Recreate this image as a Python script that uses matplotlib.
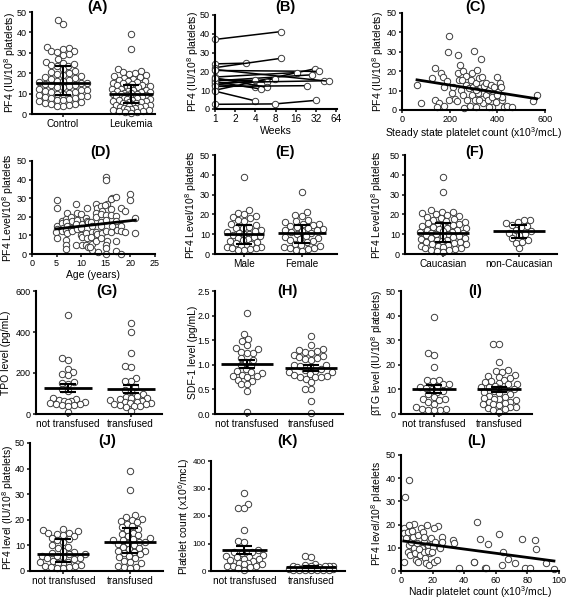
import numpy as np
import matplotlib
matplotlib.use('Agg')
import matplotlib.pyplot as plt

plt.rcParams['font.family'] = ['Liberation Sans', 'DejaVu Sans']
plt.rcParams['mathtext.default'] = 'regular'

# ---------------- data ----------------
a_control = [46, 44, 33, 32.5, 32, 31, 31, 30.5, 29.5, 29, 27, 25.5, 25, 24.5, 24, 23.5, 23.5, 22, 21,
             20.5, 20, 19.5, 19, 18.5, 18, 17.5, 17, 16.5, 16, 16, 15.5, 15, 15, 14.5, 14, 14, 13.5, 13,
             13, 12.5, 12, 12, 11.5, 11, 11, 10.5, 10, 10, 9.5, 9, 9, 8.5, 8, 8, 7.5, 7, 7, 6.5, 6, 5.5,
             5, 5, 4.5, 4, 4]
a_leukemia = [39, 32, 22, 21, 20.5, 20, 19.5, 19, 18.5, 18, 17.5, 17, 16.5, 16, 16, 15.5, 15, 15, 14.5,
              14, 14, 13.5, 13.5, 13, 13, 12.5, 12.5, 12, 12, 11.5, 11.5, 11, 11, 10.5, 10.5, 10, 10, 10,
              9.5, 9.5, 9, 9, 8.5, 8.5, 8, 8, 7.5, 7.5, 7, 7, 6.5, 6.5, 6, 6, 5.5, 5.5, 5, 5, 4.5, 4.5, 4,
              4, 3.5, 3.5, 3, 3, 2.5, 2.5, 2, 2, 1.5, 1.5, 1, 1, 0.5]

b_weeks = [[1, 9.8], [1, 2.9], [1, 9.8], [1, 31], [1, 35], [1, 16.5], [1, 28], [1, 7.8], [1, 5.9],
           [1, 3.9], [1, 41.7], [1, 51], [1, 3.9], [1, 4.9], [1, 6], [1, 23.4], [1, 3.9], [1, 7.8, 32]]
b_values = [[37, 41.2], [24, 24.4], [22, 27], [10, 21.4], [20.5, 20], [17, 19.4], [15, 18.2], [13, 16],
            [16, 14.3], [15.5, 15.2], [14, 15], [21, 14.7], [13, 11.7], [14.5, 10.6], [16.5, 11.5],
            [12, 12.4], [9.5, 4.4], [2.5, 2.7, 4.6]]

c_count = [63, 80, 124, 140, 138, 154, 147, 164, 174, 176, 176, 187, 191, 199, 197, 213, 222, 232, 236,
           236, 239, 242, 246, 256, 257, 260, 267, 267, 274, 281, 284, 288, 292, 295, 298, 302, 305, 309,
           312, 316, 319, 323, 327, 330, 334, 337, 340, 346, 351, 354, 360, 365, 372, 376, 379, 386, 393,
           400, 404, 410, 414, 419, 421, 426, 442, 463, 548, 565, 400, 250, 211, 365, 323, 309]
c_pf4 = [12.9, 3.8, 16.4, 21.9, 5.2, 3.4, 1.4, 19.3, 17.2, 11.7, 2.1, 15.2, 29.7, 37.9, 5.2, 11.7, 5.5,
         4.8, 28.4, 19.3, 15.5, 23.3, 10.3, 20.3, 7.8, 0.9, 17.6, 12.9, 5.2, 11.2, 2.1, 15.5, 7.8, 19.0,
         11.7, 30.2, 5.2, 13.8, 1.7, 20.7, 8.6, 16.4, 11.2, 26.2, 5.5, 17.2, 3.4, 12.4, 7.8, 14.1, 5.2,
         10.3, 12.9, 1.7, 6.9, 12.1, 4.3, 17.2, 9.5, 13.8, 11.7, 5.2, 6.9, 1.7, 2.1, 1.4, 4.8, 7.8, 7.8,
         15.5, 8.6, 1.7, 5.2, 10.3]
c_fit = (16.76, -0.0194)

d_age = [5, 5, 5, 5.1, 4.9, 5, 6.1, 6, 6.2, 6, 7.2, 7, 6.9, 7.2, 7, 7.1, 7, 7, 7, 8, 8.2, 8, 8.1,
         9, 9.2, 9.1, 9, 9.2, 9, 10, 10.1, 9.9, 10, 10.2, 10.1, 11.2, 11, 11.1, 11.3, 11, 11.2, 11, 11.3,
         12, 12.2, 12.1, 12, 12.2, 12.1, 11.8, 13, 13.2, 13, 13.1, 13, 13.2, 13.1, 13.4,
         14, 14.2, 14, 14.1, 14, 14.2, 14.1, 15, 15, 15.2, 14.8, 15, 15.1, 15, 15.2, 15, 15.1, 15,
         16.2, 16, 16.1, 16, 16.2, 16, 17, 17.1, 17, 17.2, 17, 17.1, 18, 18.1, 18, 18, 19, 19, 20, 20, 21, 21]
d_pf4 = [29, 24.5, 15, 13.5, 12, 8.5, 18, 16.5, 14, 12.5, 22, 19, 17, 15, 13, 11.5, 7.5, 5, 2.5,
         20, 17.5, 14, 12.5, 27, 22, 18.5, 16, 13.5, 5, 21.5, 16, 14, 10, 9, 5,
         25, 19.5, 18, 17, 11.5, 8.5, 5, 3.5, 17, 15, 12, 9, 5.5, 2, 4, 27, 25, 22, 20, 12, 10.5, 7, 1,
         26, 23, 21.5, 17, 15, 11.5, 8.5, 41.5, 40, 27, 26.5, 21, 18.5, 12.5, 7, 5, 3, 0,
         30, 29.5, 24, 21, 15, 12, 30.5, 20.5, 18, 13, 7, 1.5, 24.5, 15, 12.5, 0, 23, 12, 32, 29, 19.5, 11.5]
d_fit = (12.03, 0.294)

e_male = [39, 22, 20.5, 20, 19, 18.5, 18, 17, 16.5, 15, 14.5, 13.5, 13, 13, 12, 11.5, 11, 10.5, 10, 10,
          9.5, 9, 8.5, 8, 7.5, 7, 6.5, 6, 5.5, 5, 4.5, 4, 3.5, 3.5, 3, 3, 2.5, 2, 2]
e_female = [31.5, 21, 19.5, 19, 17, 16.5, 16, 15, 15, 14.5, 14, 13.5, 13, 12.5, 12, 12, 11.5, 11, 10.5,
            10, 9, 8.5, 8, 7.5, 7, 6.5, 6, 5, 4.5, 4, 3.5, 3, 3, 2.5, 2, 1.5]

f_cauc = [39, 31.5, 22, 21, 21, 20.5, 20, 19.5, 19, 18.5, 18, 17.5, 17, 16.5, 16, 15.5, 15, 15, 14.5, 14,
          14, 13.5, 13, 13, 12.5, 12, 12, 11.5, 11, 11, 10.5, 10.5, 10, 10, 9.5, 9, 9, 8.5, 8, 8, 7.5,
          7, 7, 6.5, 6, 6, 5.5, 5, 5, 4.5, 4, 4, 3.5, 3, 3, 2.5, 2, 2, 1.5, 1]
f_noncauc = [17, 17, 16, 15.5, 14.5, 14, 13.5, 12, 11.5, 10.5, 10, 9.5, 8, 7, 6, 5.5, 3]

g_not = [485, 275, 265, 220, 205, 195, 190, 155, 150, 145, 120, 110, 80, 75, 70, 65, 65, 60, 60, 55,
         50, 50, 45, 45, 40, 10]
g_trans = [445, 400, 300, 235, 230, 175, 160, 160, 130, 115, 110, 100, 90, 85, 80, 80, 75, 70, 65, 60,
           60, 55, 55, 50, 50, 45, 40, 40, 35, 15]

h_not = [2.05, 1.63, 1.53, 1.48, 1.4, 1.35, 1.32, 1.27, 1.25, 1.25, 1.13, 1.1, 1.05, 1.0, 0.98, 0.92,
         0.88, 0.85, 0.83, 0.8, 0.78, 0.77, 0.75, 0.7, 0.68, 0.6, 0.6, 0.46, 0.05]
h_trans = [1.58, 1.4, 1.33, 1.3, 1.28, 1.27, 1.25, 1.2, 1.17, 1.15, 1.13, 1.12, 1.1, 1.0, 1.0, 0.98,
           0.95, 0.92, 0.9, 0.88, 0.85, 0.85, 0.82, 0.8, 0.78, 0.76, 0.75, 0.75, 0.72, 0.65, 0.5, 0.5,
           0.26, 0.03]

i_not = [39.5, 25, 24, 19, 14, 14, 13.5, 12, 12, 11.5, 11, 10.5, 10, 9.5, 9, 8, 7, 6, 6, 5.5, 5, 4, 3,
         2, 2, 1.5, 1.5, 1.5]
i_trans = [28.5, 28.5, 21, 18, 17.5, 17, 16, 15.5, 15, 14.5, 14, 13.5, 13, 12.5, 12, 12, 11.5, 11, 11,
           10.5, 10, 10, 9.5, 9, 8.5, 8, 7.5, 7, 6.5, 6, 6, 5.5, 5, 5, 4.5, 4, 4, 3.5, 3, 3, 2.5, 2,
           1.5, 1]

j_not = [16.5, 16, 15.5, 15, 15, 14.5, 14, 13.5, 13, 12.5, 12, 11.5, 10, 9.5, 9, 8, 7.5, 7, 6.5, 6.5,
         6, 6, 5.5, 5, 5, 4.5, 4, 3.5, 3.5, 3, 3, 2.5, 2, 2, 1.5, 1.5, 1, 1]
j_trans = [39, 31.5, 22, 21, 20.5, 20, 19.5, 19, 18.5, 17.5, 17, 16.5, 16, 15, 14.5, 14, 13.5, 13, 12.5,
           12, 12, 11.5, 11.5, 11, 10.5, 10, 9.5, 9, 8.5, 8, 8, 7.5, 7, 6.5, 6, 5.5, 5, 4, 3.5, 3, 2,
           1.5, 1.5, 1]

k_not = [285, 245, 230, 228, 148, 110, 105, 75, 70, 70, 65, 60, 55, 50, 50, 45, 45, 40, 35, 30, 30, 25,
         25, 20, 20, 20, 15, 10, 5]
k_trans = [53, 50, 25, 22, 20, 20, 18, 18, 17, 15, 15, 12, 10, 10, 8, 8, 7, 6, 5, 5, 5, 4, 3, 2, 2]

l_nadir = [2.1, 2.7, 4.9, 2.1, 1.7, 4.2, 3.2, 5.3, 4.2, 5.9, 6.3, 7.4, 8, 8.5, 9.5, 8.9, 10.6, 10.1, 11,
           12.3, 12.7, 13.1, 13.7, 14.4, 14.8, 15.2, 15.9, 16.5, 17.3, 18, 18.6, 19, 20.1, 20.7, 21.6,
           22.8, 23.7, 24.7, 25.8, 26, 32.8, 33.8, 37, 45.9, 45.9, 48, 50.1, 52.9, 53.9, 55, 61.9, 64.5,
           63.8, 67.7, 71.9, 76.7, 78.6, 81.8, 84.6, 85.6, 92, 96.8, 5.3, 6.8, 11.6, 14.8, 16.9, 19.4, 21.1]
l_pf4 = [18.4, 32, 39.2, 4.0, 16.2, 17, 14.1, 11.2, 8.3, 6.9, 12.6, 14.8, 20.3, 9.8, 4.7, 7.6, 4.0, 11.9,
         15.5, 6.9, 18.4, 10.1, 16.8, 12.6, 8.3, 5.5, 3.3, 20, 11.2, 2.6, 7.6, 14.1, 10.5, 4.0, 12.6, 4.7,
         19.5, 9.8, 14.8, 12.6, 13.4, 11.9, 1.4, 3.7, 4.0, 21, 13.8, 1.4, 1.4, 11.5, 15.8, 8.0, 2.6, 5.2,
         3.3, 13.6, 1.4, 1.4, 13.4, 9.3, 3.4, 1.0, 19.9, 17.4, 9.3, 14.8, 8.6, 8.0, 18.4]
l_fit = (13.07, -0.0904)

pf4_iu = 'PF4 (IU/10$^8$ platelets)'
pf4_lvl = 'PF4 Level/10$^8$ platelets'

# ---------------- layout ----------------
W, H = 567, 599
fig = plt.figure(figsize=(W / 100, H / 100), dpi=100)
DOT = dict(marker='o', ls='none', ms=4.6, mfc='white', mec='#3c3c3c', mew=0.7, clip_on=False, zorder=2)
LAB = 7.5
TICK = 6.5
CAT = 7.2


def make_ax(x0, y0, x1, y1):
    ax = fig.add_axes([x0 / W, 1 - y1 / H, (x1 - x0) / W, (y1 - y0) / H])
    for s in ['top', 'right']:
        ax.spines[s].set_visible(False)
    for s in ['left', 'bottom']:
        ax.spines[s].set_linewidth(1.5)
    ax.tick_params(width=1.2, length=2.5, labelsize=TICK, pad=1.2, color='#222222')
    return ax


def ylab(ax, text, xr):
    # xr: right edge of the rotated label, figure pixels
    ax.set_ylabel(text, fontsize=LAB)
    pos = ax.get_position()
    ax.yaxis.set_label_coords((xr / W - pos.x0) / pos.width, 0.5)


def title(x, y, s):
    fig.text(x / W, 1 - y / H, s, ha='center', va='center', fontsize=10.5, fontweight='bold')


def offsets(vals, ax, ylim, xspan, maxw, d=6.0):
    # greedy beeswarm in pixel units, limited to +-maxw px
    pos = ax.get_position()
    hpx, wpx = pos.height * H, pos.width * W
    py = (np.asarray(vals, float) - ylim[0]) / (ylim[1] - ylim[0]) * hpx
    cand = np.arange(-maxw, maxw + 0.01, 0.5)
    cand = cand[np.argsort(np.abs(cand), kind='stable')]
    px_done, py_done = [], []
    off = np.zeros(len(py))
    for i in np.argsort(py):
        j = 0
        if px_done:
            dx = cand[:, None] - np.array(px_done)[None, :]
            dy = py[i] - np.array(py_done)
            dist = np.sqrt(dx ** 2 + dy[None, :] ** 2).min(axis=1)
            for thr in [d, 0.8 * d, 0.6 * d, 0.4 * d, 0.2 * d, 0]:
                ok = np.where(dist >= thr)[0]
                if len(ok):
                    j = ok[0]
                    break
        off[i] = cand[j]
        px_done.append(cand[j])
        py_done.append(py[i])
    return off * xspan / wpx


def dotplot(ax, groups, names, ylim, stat='median', hw=24, cap=8, xlim=(0.5, 2.5)):
    ax.set_xlim(xlim)
    ax.set_ylim(ylim)
    xspan = xlim[1] - xlim[0]
    upx = xspan / (ax.get_position().width * W)
    for i, vals in enumerate(groups):
        x0 = i + 1
        h = hw[i] if isinstance(hw, (list, tuple)) else hw
        ax.plot(x0 + offsets(vals, ax, ylim, xspan, h - 3), vals, **DOT)
        if stat == 'median':
            c = np.median(vals)
            lo, hi = np.percentile(vals, [25, 75])
        else:
            c = np.mean(vals)
            sem = np.std(vals, ddof=1) / np.sqrt(len(vals))
            lo, hi = c - sem, c + sem
        ax.hlines(c, x0 - h * upx, x0 + h * upx, color='k', lw=2, zorder=3)
        ax.vlines(x0, lo, hi, color='k', lw=1.5, zorder=3)
        ax.hlines([lo, hi], x0 - cap * upx, x0 + cap * upx, color='k', lw=1.5, zorder=3)
    ax.set_xticks([1, 2])
    ax.set_xticklabels(names, fontsize=CAT)


def scatter_fit(ax, x, y, fit, xlim, ylim):
    ax.set_xlim(xlim)
    ax.set_ylim(ylim)
    ax.plot(x, y, **DOT)
    xs = np.array([min(x), max(x)])
    ax.plot(xs, fit[0] + fit[1] * xs, color='k', lw=2, zorder=3)


# (A)
ax = make_ax(32, 12, 155, 114)
dotplot(ax, [a_control, a_leukemia], ['Control', 'Leukemia'], (0, 50), hw=[27, 22], xlim=(0.55, 2.35))
ax.set_yticks(range(0, 51, 10))
ylab(ax, pf4_iu, 18)
title(97, 7, '(A)')

# (B)
ax = make_ax(215, 15, 337, 109)
for wk, val in zip(b_weeks, b_values):
    ax.plot(wk, val, color='k', lw=1.1, **{k: v for k, v in DOT.items() if k != 'ls'})
ax.set_xscale('log', base=2)
ax.set_xlim(1, 66)
ax.set_ylim(0, 50)
ax.set_xticks([1, 2, 4, 8, 16, 32, 64])
ax.set_xticklabels(['1', '2', '4', '8', '16', '32', '64'], fontsize=CAT)
ax.minorticks_off()
ax.set_yticks(range(0, 51, 10))
ax.set_xlabel('Weeks', fontsize=LAB, labelpad=1)
ylab(ax, pf4_iu, 201)
title(285, 7, '(B)')

# (C)
ax = make_ax(402, 13, 545, 110)
scatter_fit(ax, c_count, c_pf4, c_fit, (0, 600), (0, 50))
ax.set_xticks([0, 200, 400, 600])
ax.set_yticks(range(0, 51, 10))
ax.set_xlabel('Steady state platelet count (x10$^3$/mcL)', fontsize=LAB, labelpad=1)
ylab(ax, pf4_iu, 386)
title(475, 7, '(C)')

# (D)
ax = make_ax(32, 161, 155, 254)
scatter_fit(ax, d_age, d_pf4, d_fit, (0, 25), (0, 50))
ax.set_xticks(range(0, 26, 5))
ax.set_yticks(range(0, 51, 10))
ax.set_xlabel('Age (years)', fontsize=LAB, labelpad=1)
ylab(ax, pf4_lvl, 16)
title(100, 152, '(D)')

# (E)
ax = make_ax(215, 155, 337, 254)
dotplot(ax, [e_male, e_female], ['Male', 'Female'], (0, 50), hw=[20, 24], xlim=(0.5, 2.6))
ax.set_yticks(range(0, 51, 10))
ylab(ax, pf4_lvl, 199)
title(285, 152, '(E)')

# (F)
ax = make_ax(405, 155, 557, 254)
dotplot(ax, [f_cauc, f_noncauc], ['Caucasian', 'non-Caucasian'], (0, 50), hw=26)
ax.set_yticks(range(0, 51, 10))
ylab(ax, pf4_lvl, 385)
title(475, 152, '(F)')

# (G)
ax = make_ax(36, 291, 162, 414)
dotplot(ax, [g_not, g_trans], ['not transfused', 'transfused'], (0, 600), stat='mean')
ax.set_yticks([0, 200, 400, 600])
ylab(ax, 'TPO level (pg/mL)', 11)
title(107, 291, '(G)')

# (H)
ax = make_ax(215, 291, 343, 414)
dotplot(ax, [h_not, h_trans], ['not transfused', 'transfused'], (0, 2.5), stat='mean', hw=26)
ax.set_yticks([0, 0.5, 1.0, 1.5, 2.0, 2.5])
ax.set_yticklabels(['0.0', '0.5', '1.0', '1.5', '2.0', '2.5'])
ylab(ax, 'SDF-1 level (pg/mL)', 198)
title(287, 291, '(H)')

# (I)
ax = make_ax(401, 291, 532, 414)
dotplot(ax, [i_not, i_trans], ['not transfused', 'transfused'], (0, 50), stat='mean', hw=22)
ax.set_yticks(range(0, 51, 10))
ylab(ax, 'βTG level (IU/10$^8$ platelets)', 385)
title(475, 291, '(I)')

# (J)
ax = make_ax(30, 443, 163, 571)
dotplot(ax, [j_not, j_trans], ['not transfused', 'transfused'], (0, 50), hw=26)
ax.set_yticks(range(0, 51, 10))
ylab(ax, 'PF4 level (IU/10$^8$ platelets)', 16)
title(107, 441, '(J)')

# (K)
ax = make_ax(211, 461, 345, 571)
dotplot(ax, [k_not, k_trans], ['not transfused', 'transfused'], (0, 400), stat='mean', hw=[22, 25])
ax.set_yticks(range(0, 401, 100))
ax.tick_params(axis='y', labelsize=5.8, pad=1)
ylab(ax, 'Platelet count (x10$^6$/mcL)', 192)
title(287, 441, '(K)')

# (L)
ax = make_ax(401, 455, 559, 571)
scatter_fit(ax, l_nadir, l_pf4, l_fit, (0, 100), (0, 50))
ax.set_xticks(range(0, 101, 20))
ax.set_yticks(range(0, 51, 10))
ax.tick_params(axis='x', pad=0.8)
ax.set_xlabel('Nadir platelet count (x10$^3$/mcL)', fontsize=LAB, labelpad=-0.5)
ylab(ax, 'PF4 level/10$^8$ platelets', 385)
title(477, 441, '(L)')

fig.savefig('out.png', dpi=100)
